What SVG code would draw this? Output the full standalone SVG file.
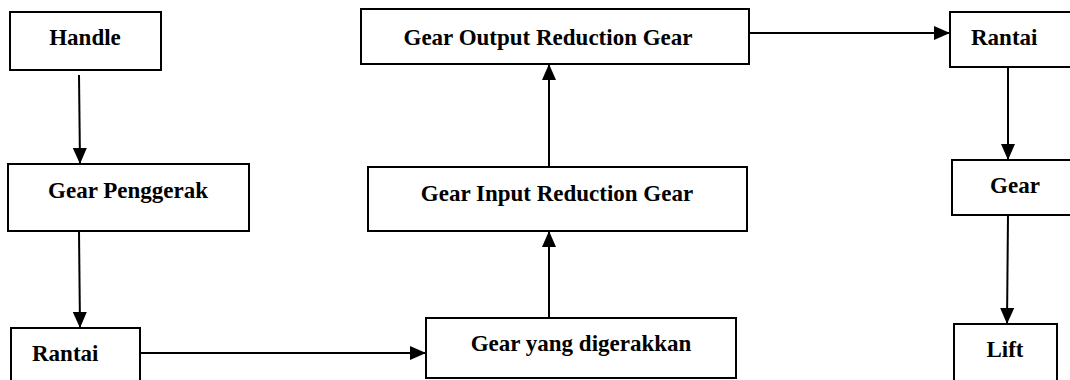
<svg xmlns="http://www.w3.org/2000/svg" width="1070" height="380" viewBox="0 0 1070 380">
<style>
.box{fill:#fff;stroke:#000;stroke-width:2}
.lbl{font-family:"Liberation Serif","Times New Roman",serif;font-weight:bold;font-size:23px;fill:#000}
.con{stroke:#000;stroke-width:2;fill:none}
</style>
<defs>
<marker id="arr" markerWidth="16" markerHeight="14" refX="16" refY="7" orient="auto" markerUnits="userSpaceOnUse">
<path d="M0,0 L16,7 L0,14 Z" fill="#000"/>
</marker>
</defs>
<rect width="1070" height="380" fill="#fff"/>
<g id="connectors">
<line class="con" x1="79" y1="75" x2="80" y2="164" marker-end="url(#arr)"/>
<line class="con" x1="79" y1="231" x2="80" y2="328" marker-end="url(#arr)"/>
<line class="con" x1="140" y1="353" x2="426" y2="353" marker-end="url(#arr)"/>
<line class="con" x1="549" y1="318" x2="549" y2="231" marker-end="url(#arr)"/>
<line class="con" x1="549" y1="167" x2="549" y2="64" marker-end="url(#arr)"/>
<line class="con" x1="749" y1="33" x2="950" y2="33" marker-end="url(#arr)"/>
<line class="con" x1="1008" y1="67" x2="1008" y2="160" marker-end="url(#arr)"/>
<line class="con" x1="1008" y1="215" x2="1007" y2="324" marker-end="url(#arr)"/>
</g>
<g id="handle"><rect class="box" x="10" y="12" width="151" height="58"/><text class="lbl" x="85" y="45" text-anchor="middle">Handle</text></g>
<g id="gear-penggerak"><rect class="box" x="8" y="164" width="241" height="67"/><text class="lbl" x="128" y="198" text-anchor="middle">Gear  Penggerak</text></g>
<g id="rantai-left"><rect class="box" x="11" y="328" width="129" height="60"/><text class="lbl" x="32" y="361">Rantai</text></g>
<g id="gear-yang-digerakkan"><rect class="box" x="426" y="318" width="310" height="60"/><text class="lbl" x="581" y="351" text-anchor="middle">Gear yang digerakkan</text></g>
<g id="gear-input"><rect class="box" x="368" y="167" width="379" height="64"/><text class="lbl" x="557" y="201" text-anchor="middle">Gear Input Reduction Gear</text></g>
<g id="gear-output"><rect class="box" x="361" y="9" width="388" height="55"/><text class="lbl" x="548" y="45" text-anchor="middle">Gear Output Reduction Gear</text></g>
<g id="rantai-right"><rect class="box" x="950" y="12" width="140" height="55"/><text class="lbl" x="971" y="45">Rantai</text></g>
<g id="gear-right"><rect class="box" x="952" y="160" width="140" height="55"/><text class="lbl" x="1015" y="193" text-anchor="middle">Gear</text></g>
<g id="lift"><rect class="box" x="954" y="324" width="103" height="70"/><text class="lbl" x="1005" y="357" text-anchor="middle">Lift</text></g>
</svg>
